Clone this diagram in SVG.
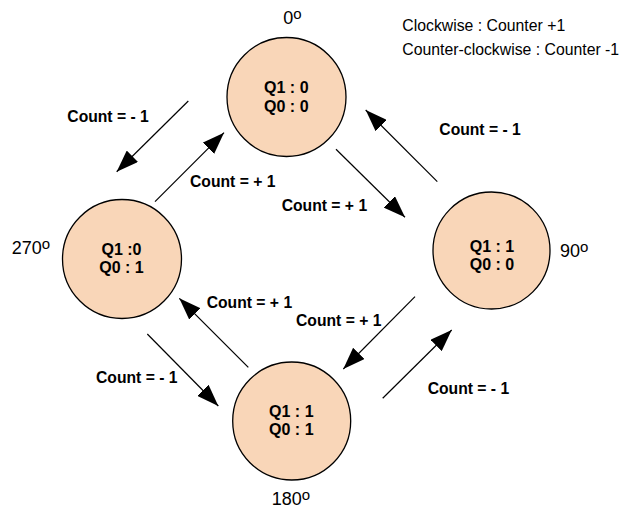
<svg xmlns="http://www.w3.org/2000/svg" width="621" height="508" viewBox="0 0 621 508">
<defs>
<marker id="ah" markerWidth="22" markerHeight="16" refX="22" refY="8" orient="auto" markerUnits="userSpaceOnUse"><path d="M0,0 L22,8 L0,16 z" fill="#000"/></marker>
<style>
.st{fill:#F9D6B8;stroke:#000;stroke-width:1.3}
.q{font-family:"Liberation Sans",Arial,sans-serif;font-weight:bold;font-size:16px;text-anchor:middle;fill:#000}
.deg{font-family:"Liberation Sans",Arial,sans-serif;font-size:18px;fill:#000}
.sup{font-size:15px}
.lbl{font-family:"Liberation Sans",Arial,sans-serif;font-weight:bold;font-size:15.7px;fill:#000}
.leg{font-family:"Liberation Sans",Arial,sans-serif;font-size:15.8px;fill:#000}
.ar{stroke:#000;stroke-width:1.2;fill:none;marker-end:url(#ah)}
</style>
</defs>
<rect width="621" height="508" fill="#fff"/>
<g id="s00">
<circle class="st" cx="286.5" cy="97" r="59.5"/>
<text class="q" x="286.3" y="93.3">Q1 : 0</text>
<text class="q" x="286.3" y="111.7">Q0 : 0</text>
<text class="deg" x="283.3" y="24">0<tspan class="sup" dy="-5">o</tspan></text>
</g>
<g id="s01">
<circle class="st" cx="122" cy="259" r="59.5"/>
<text class="q" x="121.5" y="255">Q1 :0</text>
<text class="q" x="121.5" y="273.3">Q0 : 1</text>
<text class="deg" x="11.7" y="254.3">270<tspan class="sup" dy="-5">o</tspan></text>
</g>
<g id="s10">
<circle class="st" cx="491.5" cy="250.5" r="58.5"/>
<text class="q" x="492" y="251.7">Q1 : 1</text>
<text class="q" x="492" y="270">Q0 : 0</text>
<text class="deg" x="560" y="256.7">90<tspan class="sup" dy="-5">o</tspan></text>
</g>
<g id="s11">
<circle class="st" cx="291.7" cy="421" r="59"/>
<text class="q" x="291.3" y="416.7">Q1 : 1</text>
<text class="q" x="291.3" y="435">Q0 : 1</text>
<text class="deg" x="271.7" y="505">180<tspan class="sup" dy="-5">o</tspan></text>
</g>
<g id="legend">
<text class="leg" x="402.3" y="31">Clockwise : Counter +1</text>
<text class="leg" x="402.3" y="55">Counter-clockwise : Counter -1</text>
</g>
<g id="connectors">
<line class="ar" x1="188.3" y1="101" x2="116.7" y2="171.7"/>
<line class="ar" x1="155" y1="201.7" x2="224" y2="132.7"/>
<line class="ar" x1="336" y1="149.3" x2="405" y2="217.3"/>
<line class="ar" x1="437.3" y1="181.7" x2="365.7" y2="110"/>
<line class="ar" x1="248.3" y1="367.3" x2="179.3" y2="298.3"/>
<line class="ar" x1="147.3" y1="334" x2="218.3" y2="406"/>
<line class="ar" x1="415" y1="296.7" x2="343.3" y2="369"/>
<line class="ar" x1="382.7" y1="398.3" x2="451.7" y2="330"/>
<text class="lbl" x="67.3" y="121.7">Count = - 1</text>
<text class="lbl" x="190" y="186.7">Count = + 1</text>
<text class="lbl" x="281.7" y="210.7">Count = + 1</text>
<text class="lbl" x="439.3" y="135">Count = - 1</text>
<text class="lbl" x="206.7" y="308.3">Count = + 1</text>
<text class="lbl" x="96" y="382.7">Count = - 1</text>
<text class="lbl" x="296" y="325.7">Count = + 1</text>
<text class="lbl" x="427.7" y="394">Count = - 1</text>
</g>
</svg>
